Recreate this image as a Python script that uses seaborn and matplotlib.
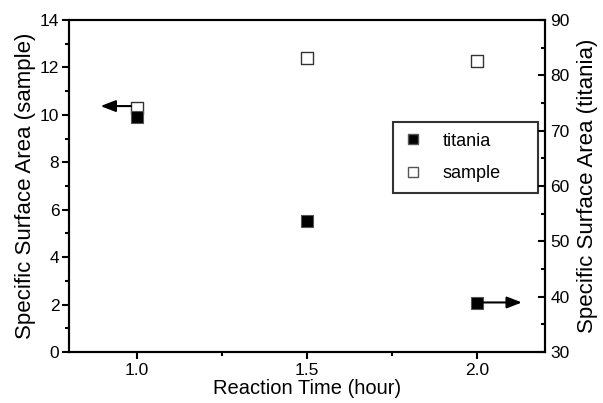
import matplotlib
matplotlib.use("Agg")
import matplotlib.pyplot as plt
from matplotlib.lines import Line2D
from matplotlib.ticker import MultipleLocator
import seaborn as sns
import pandas as pd

# Reaction time (hours) and specific surface areas
reaction_time = [1.0, 1.5, 2.0]
sample_area = [10.29, 12.40, 12.27]
titania_area = [72.4, 53.7, 38.9]

x_ticks = [1.0, 1.5, 2.0]
left_ticks = [0, 2, 4, 6, 8, 10, 12, 14]
right_ticks = [30, 40, 50, 60, 70, 80, 90]

sns.set_style("white")
plt.rcParams["font.family"] = ["Liberation Sans", "DejaVu Sans"]
plt.rcParams["text.color"] = "black"
plt.rcParams["axes.labelcolor"] = "black"
plt.rcParams["xtick.color"] = "black"
plt.rcParams["ytick.color"] = "black"

df = pd.DataFrame({"time": reaction_time, "sample": sample_area, "titania": titania_area})

fig = plt.figure(figsize=(6.03, 4.03), dpi=100)
ax = fig.add_axes([0.1144, 0.1266, 0.7894, 0.8238])
ax2 = ax.twinx()

msize = 70
sns.scatterplot(data=df, x="time", y="sample", ax=ax, marker="s", s=msize,
                facecolor="white", edgecolor="#333333", linewidth=1.0, zorder=3)
sns.scatterplot(data=df, x="time", y="titania", ax=ax2, marker="s", s=msize,
                color="black", edgecolor="#555555", linewidth=0.8, zorder=3)

ax.set_xlim(0.8, 2.2)
ax.set_ylim(0, 14)
ax2.set_ylim(30, 90)
ax.set_xticks(x_ticks)
ax.set_xticklabels([f"{t:.1f}" for t in x_ticks])
ax.set_yticks(left_ticks)
ax2.set_yticks(right_ticks)
ax.xaxis.set_minor_locator(MultipleLocator(0.25))
ax.yaxis.set_minor_locator(MultipleLocator(1))
ax2.yaxis.set_minor_locator(MultipleLocator(5))

ax.set_xlabel("Reaction Time (hour)", fontsize=14.5, labelpad=1)
ax.set_ylabel("Specific Surface Area (sample)", fontsize=16, labelpad=3)
ax2.set_ylabel("Specific Surface Area (titania)", fontsize=16, labelpad=5)

for a in (ax, ax2):
    for sp in a.spines.values():
        sp.set_linewidth(1.5)
        sp.set_color("black")
        sp.set_visible(True)

ax.tick_params(axis="x", which="major", direction="out", length=5, width=1.5,
               labelsize=12.5, pad=3, bottom=True, top=False)
ax.tick_params(axis="x", which="minor", direction="out", length=3, width=1.5, bottom=True, top=False)
ax.tick_params(axis="y", which="major", direction="out", length=5, width=1.5,
               labelsize=12.5, pad=2, left=True, right=False)
ax.tick_params(axis="y", which="minor", direction="out", length=3, width=1.5, left=True, right=False)
ax2.tick_params(axis="y", which="major", direction="in", length=5, width=1.5,
                labelsize=12.5, pad=4, right=True, left=False)
ax2.tick_params(axis="y", which="minor", direction="in", length=3, width=1.5, right=True, left=False)

# Arrows pointing each series to its own axis
arrow = dict(arrowstyle="-|>,head_length=0.9,head_width=0.35", color="black", lw=1.5,
             shrinkA=0, shrinkB=0)
ax.annotate("", xy=(0.893, 10.37), xytext=(0.982, 10.37), arrowprops=arrow, zorder=4)
ax2.annotate("", xy=(2.132, 38.95), xytext=(2.018, 38.95), arrowprops=arrow, zorder=4)

handles = [
    Line2D([], [], marker="s", linestyle="none", markersize=7.5, markerfacecolor="black",
           markeredgecolor="#555555", label="titania"),
    Line2D([], [], marker="s", linestyle="none", markersize=7.5, markerfacecolor="white",
           markeredgecolor="#555555", label="sample"),
]
for a in (ax, ax2):
    lg = a.get_legend()
    if lg is not None:
        lg.remove()
leg = ax2.legend(handles=handles, loc="upper left", bbox_to_anchor=(0.681, 0.693, 0.305, 0.0),
                 mode="expand", fontsize=13, frameon=True, fancybox=False, borderpad=0.6,
                 handlelength=1.0, handletextpad=1.15, labelspacing=0.85, borderaxespad=0)
leg.get_frame().set_edgecolor("black")
leg.get_frame().set_linewidth(1.5)

fig.savefig("out.png", dpi=100)
